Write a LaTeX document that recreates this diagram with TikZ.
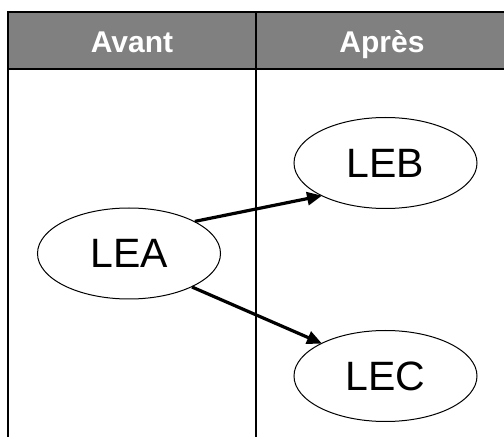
\documentclass[tikz,border=0pt]{standalone}
\usepackage{fontspec}
\setmainfont{Liberation Sans}
\usetikzlibrary{shapes.geometric,arrows.meta}
\definecolor{headgray}{HTML}{808080}
\tikzset{
  oval/.style={ellipse, draw=black, line width=1pt, minimum width=183pt, minimum height=91pt, inner sep=0pt, font=\fontsize{41}{41}\selectfont},
  headtext/.style={text=white, anchor=base, inner sep=0pt, font=\bfseries\fontsize{30}{30}\selectfont},
  rule/.style={draw=black, line width=1.5pt},
  link/.style={draw=black, line width=3.2pt, -{Triangle[length=15pt,width=13pt]}, shorten >=-1pt}
}
\begin{document}
\begin{tikzpicture}[x=1pt,y=1pt]
\useasboundingbox (0,0) rectangle (504,437);
% header band (image y 12..69)
\fill[headgray] (8,368) rectangle (520,425);
\draw[rule] (520,425) -- (8,425) -- (8,0);
\draw[rule] (8,368) -- (520,368);
\draw[rule] (256,425) -- (256,0);
\node[headtext] (avant) at (132,384) {Avant};
\node[headtext] (apres) at (382,384) {Après};
% ellipses
\node[oval] (lea) at (129,183.5) {LEA};
\node[oval] (leb) at (385.5,274) {LEB};
\node[oval] (lec) at (385.5,61) {LEC};
% arrows
\draw[link] (lea.26) -- (leb.207);
\draw[link] (lea.-28) -- (lec.153);
\end{tikzpicture}
\end{document}
